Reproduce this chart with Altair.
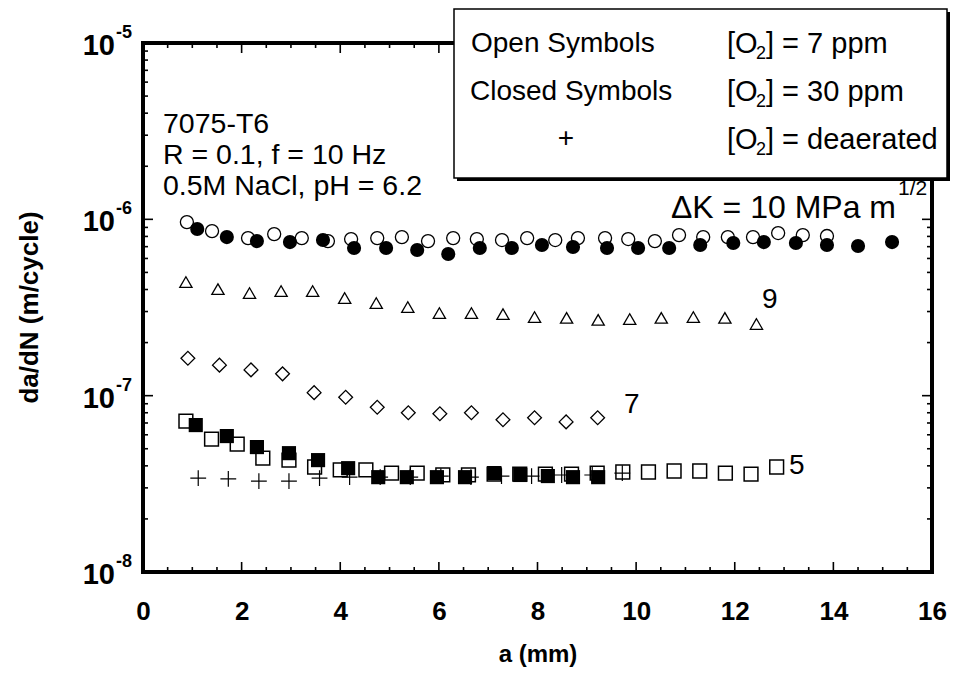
import altair as alt
import pandas as pd

FONT = "Liberation Sans"
W, H = 789, 529

# ---- crack growth data: crack length a (mm) and da/dN (m/cycle) ----
# dK = 10, [O2] = 7 ppm (open circles)
k10_open_a = [0.89, 1.40, 2.13, 2.66, 3.22, 3.75, 4.22, 4.75, 5.25, 5.78, 6.29, 6.77, 7.28,
              7.79, 8.36, 8.82, 9.37, 9.84, 10.38, 10.87, 11.36, 11.86, 12.37, 12.88, 13.38, 13.87]
k10_open_rate = [9.65e-7, 8.58e-7, 7.83e-7, 8.25e-7, 7.83e-7, 7.53e-7, 7.73e-7, 7.83e-7, 7.93e-7,
                 7.53e-7, 7.83e-7, 7.73e-7, 7.63e-7, 7.83e-7, 7.63e-7, 7.83e-7, 7.83e-7, 7.73e-7,
                 7.53e-7, 8.14e-7, 7.93e-7, 7.93e-7, 7.93e-7, 8.36e-7, 8.14e-7, 8.04e-7]
# dK = 10, [O2] = 30 ppm (closed circles)
k10_closed_a = [1.10, 1.70, 2.31, 2.98, 3.65, 4.28, 4.93, 5.56, 6.19, 6.83, 7.48, 8.09, 8.72,
                9.41, 10.04, 10.67, 11.30, 11.97, 12.59, 13.24, 13.87, 14.50, 15.19]
k10_closed_rate = [8.81e-7, 7.93e-7, 7.53e-7, 7.43e-7, 7.63e-7, 6.88e-7, 6.88e-7, 6.70e-7, 6.36e-7,
                   6.88e-7, 6.88e-7, 7.15e-7, 6.97e-7, 6.88e-7, 6.88e-7, 6.88e-7, 7.15e-7, 7.34e-7,
                   7.43e-7, 7.34e-7, 7.15e-7, 7.06e-7, 7.43e-7]
# dK = 9, 7 ppm (open triangles)
k9_a = [0.87, 1.52, 2.16, 2.80, 3.44, 4.09, 4.73, 5.37, 6.01, 6.66, 7.30, 7.94, 8.59, 9.23,
        9.87, 10.51, 11.16, 11.80, 12.44]
k9_rate = [4.41e-7, 4.02e-7, 3.82e-7, 3.92e-7, 3.92e-7, 3.58e-7, 3.35e-7, 3.18e-7, 2.94e-7, 2.94e-7,
           2.90e-7, 2.79e-7, 2.76e-7, 2.69e-7, 2.72e-7, 2.76e-7, 2.79e-7, 2.76e-7, 2.55e-7]
# dK = 7, 7 ppm (open diamonds)
k7_a = [0.91, 1.55, 2.19, 2.83, 3.47, 4.11, 4.75, 5.38, 6.02, 6.66, 7.30, 7.94, 8.58, 9.22]
k7_rate = [1.63e-7, 1.49e-7, 1.40e-7, 1.33e-7, 1.04e-7, 9.8e-8, 8.6e-8, 8.0e-8, 7.9e-8, 8.0e-8,
           7.3e-8, 7.5e-8, 7.1e-8, 7.5e-8]
# dK = 5, 7 ppm (open squares)
k5_open_a = [0.87, 1.39, 1.91, 2.43, 2.96, 3.48, 4.00, 4.52, 5.04, 5.56, 6.08, 6.60, 7.12, 7.64,
             8.16, 8.69, 9.21, 9.73, 10.25, 10.77, 11.29, 11.81, 12.33, 12.85]
k5_open_rate = [7.18e-8, 5.67e-8, 5.31e-8, 4.43e-8, 4.31e-8, 3.94e-8, 3.79e-8, 3.79e-8, 3.64e-8,
                3.64e-8, 3.55e-8, 3.55e-8, 3.59e-8, 3.59e-8, 3.59e-8, 3.59e-8, 3.64e-8, 3.69e-8,
                3.69e-8, 3.74e-8, 3.74e-8, 3.64e-8, 3.59e-8, 3.94e-8]
# dK = 5, 30 ppm (closed squares)
k5_closed_a = [1.07, 1.70, 2.31, 2.96, 3.55, 4.16, 4.77, 5.35, 5.96, 6.53, 7.12, 7.65, 8.21, 8.72, 9.23]
k5_closed_rate = [6.81e-8, 5.90e-8, 5.11e-8, 4.72e-8, 4.31e-8, 3.88e-8, 3.45e-8, 3.45e-8, 3.45e-8,
                  3.45e-8, 3.64e-8, 3.55e-8, 3.50e-8, 3.45e-8, 3.45e-8]
# dK = 5, deaerated (plus)
k5_deaer_a = [1.12, 1.73, 2.35, 2.96, 3.58, 4.19, 4.81, 5.42, 6.04, 6.65, 7.27, 7.88, 8.49, 9.11, 9.72]
k5_deaer_rate = [3.41e-8, 3.37e-8, 3.28e-8, 3.28e-8, 3.41e-8, 3.45e-8, 3.45e-8, 3.45e-8, 3.50e-8,
                 3.45e-8, 3.50e-8, 3.50e-8, 3.55e-8, 3.55e-8, 3.64e-8]

# ---- axis ticks ----
x_major = [0, 2, 4, 6, 8, 10, 12, 14, 16]
x_minor = [v + d for v in range(0, 16, 2) for d in (0.5, 1.0, 1.5)]
y_major = [1e-8, 1e-7, 1e-6, 1e-5]
y_exponents = ["-8", "-7", "-6", "-5"]
y_minor = [k * 10.0 ** e for e in (-8, -7, -6) for k in range(2, 10)]

xs = alt.Scale(domain=[0, 16], nice=False)
ys = alt.Scale(type="log", domain=[1e-8, 1e-5], nice=False)
x_axis = alt.Axis(values=x_major, format="d", grid=False, ticks=False, domain=False,
                  labelFlush=False, labelFont=FONT, labelFontSize=26, labelFontWeight="bold",
                  labelColor="black", labelPadding=26, title="a (mm)", titleFont=FONT,
                  titleFontSize=24, titleFontWeight="bold", titleColor="black", titlePadding=18)

one = pd.DataFrame({"k": [0]})


def series(a, rate, shape, filled, size, sw=1.3):
    df = pd.DataFrame({"a": a, "rate": rate})
    return alt.Chart(df).mark_point(
        shape=shape, filled=filled, size=size, color="black", strokeWidth=sw, opacity=1
    ).encode(x=alt.X("a:Q", scale=xs, axis=x_axis), y=alt.Y("rate:Q", scale=ys, axis=None))


def xticks(vals, y0, y1):
    return alt.Chart(pd.DataFrame({"a": vals})).mark_rule(color="black", strokeWidth=1.6).encode(
        x=alt.X("a:Q", scale=xs, axis=x_axis), y=alt.value(y0), y2=alt.value(y1))


def yticks(vals, x0, x1):
    return alt.Chart(pd.DataFrame({"rate": vals})).mark_rule(color="black", strokeWidth=1.6).encode(
        y=alt.Y("rate:Q", scale=ys, axis=None), x=alt.value(x0), x2=alt.value(x1))


def frame(x0, y0, x1, y1):
    return alt.Chart(one).mark_rule(color="black", strokeWidth=4, strokeCap="square").encode(
        x=alt.value(x0), y=alt.value(y0), x2=alt.value(x1), y2=alt.value(y1))


def label(text, x, y, size=28, align="left", weight="normal", angle=None):
    kw = dict(text=text, align=align, baseline="middle", fontSize=size, font=FONT,
              fontWeight=weight, color="black")
    if angle is not None:
        kw["angle"] = angle
    return alt.Chart(one).mark_text(**kw).encode(x=alt.value(x), y=alt.value(y))


plus_shape = "M-1,0L1,0M0,-1L0,1"

points = [
    series(k10_open_a, k10_open_rate, "circle", False, 170),
    series(k10_closed_a, k10_closed_rate, "circle", True, 200),
    series(k9_a, k9_rate, "triangle-up", False, 150),
    series(k7_a, k7_rate, "diamond", False, 190),
    series(k5_open_a, k5_open_rate, "square", False, 190, 1.5),
    series(k5_closed_a, k5_closed_rate, "square", True, 200),
    series(k5_deaer_a, k5_deaer_rate, plus_shape, False, 250, 1.2),
]

ticks = [
    xticks(x_major, H, H - 10), xticks(x_minor, H, H - 5),
    xticks(x_major, 0, 10), xticks(x_minor, 0, 5),
    yticks(y_major, 0, 10), yticks(y_minor, 0, 5),
    yticks(y_major, W, W - 10), yticks(y_minor, W, W - 5),
]

frames = [frame(0, 0, 0, H), frame(0, H, W, H), frame(0, 0, W, 0), frame(W, 0, W, H)]

# y-axis tick labels written as 10 with a raised exponent
ylab_df = pd.DataFrame({"rate": y_major, "exp": y_exponents})
ylab_base = alt.Chart(ylab_df).mark_text(
    text="10", align="right", baseline="middle", dy=3, fontSize=29, font=FONT,
    fontWeight="bold", color="black").encode(
    y=alt.Y("rate:Q", scale=ys, axis=None), x=alt.value(-28))
ylab_exp = alt.Chart(ylab_df).mark_text(
    align="left", baseline="middle", dy=-10, fontSize=18, font=FONT,
    fontWeight="bold", color="black").encode(
    y=alt.Y("rate:Q", scale=ys, axis=None), x=alt.value(-27), text="exp:N")

ytitle = label("da/dN (m/cycle)", -113, H / 2, size=26, align="center", weight="bold", angle=270)

notes = [
    label("7075-T6", 20, 81, size=28.5),
    label("R = 0.1, f = 10 Hz", 20, 112, size=28.5),
    label("0.5M NaCl, pH = 6.2", 20, 143, size=28.5),
    label("\u0394K = 10 MPa m", 753, 165, size=32, align="right"),
    label("1/2", 755, 146, size=21),
    label("9", 619, 257),
    label("7", 481, 362),
    label("5", 646, 423),
]

# key box with drop shadow
shadow = alt.Chart(one).mark_rect(color="black").encode(
    x=alt.value(314), x2=alt.value(807), y=alt.value(-31), y2=alt.value(138))
box = alt.Chart(one).mark_rect(fill="white", stroke="black", strokeWidth=1.5).encode(
    x=alt.value(311), x2=alt.value(804), y=alt.value(-34), y2=alt.value(135))

key = [shadow, box,
       label("Open Symbols", 328, 1),
       label("Closed Symbols", 327, 49),
       label("+", 423, 96, align="center")]
for row_y, rest in [(1, "] = 7 ppm"), (49, "] = 30 ppm"), (97, "] = deaerated")]:
    key += [label("[O", 584, row_y, size=29),
            label("2", 613, row_y + 10, size=18),
            label(rest, 623, row_y, size=29)]

chart = alt.layer(*ticks, *frames, *points, ylab_base, ylab_exp, ytitle, *notes, *key).properties(
    width=W, height=H,
    autosize=alt.AutoSizeParams(type="none"),
    padding={"left": 143, "top": 43, "right": 954 - 143 - W, "bottom": 685 - 43 - H},
).configure_view(stroke=None).configure(background="white")

chart.save("out.html", embed_options={"renderer": "svg", "actions": False})
